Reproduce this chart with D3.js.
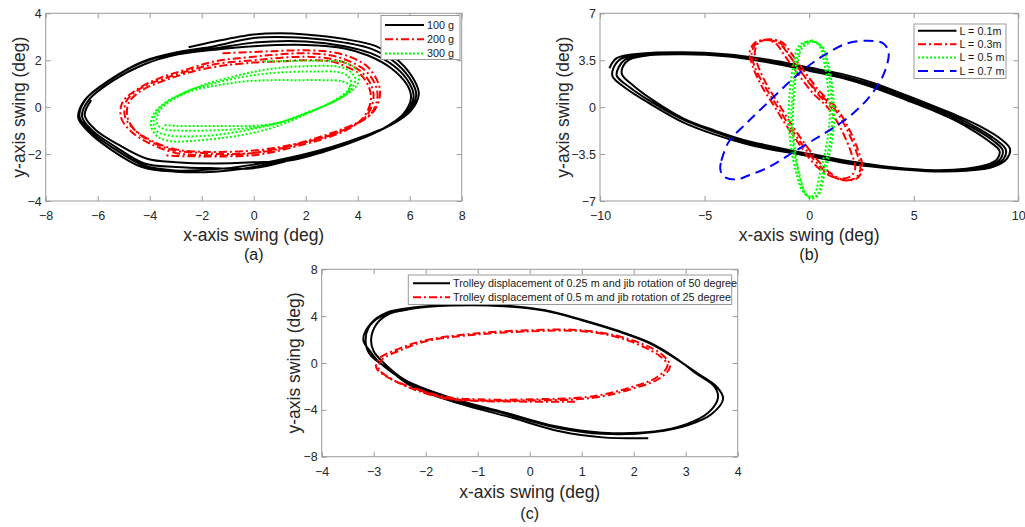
<!DOCTYPE html>
<html>
<head>
<meta charset="utf-8">
<script src="https://cdn.jsdelivr.net/npm/d3@7"></script>
<style>
  html, body { margin: 0; padding: 0; background: #fff; }
  svg { display: block; }
  text { font-family: "Liberation Sans", Arial, sans-serif; }
</style>
</head>
<body>
<svg id="fig" width="1025" height="527"></svg>
<script>
// ---------- Panel (a): payload mass ----------
const aXTicks = [-8, -6, -4, -2, 0, 2, 4, 6, 8];
const aYTicks = [-4, -2, 0, 2, 4];
const aLegend = ["100 g", "200 g", "300 g"];

const swing100g = [
  [-2.5,2.55],[-1.5,2.8],[0,3.1],[1,3.15],[2,3.1],[3.5,2.9],[4.7,2.6],[5.6,1.95],[6.2,1.1],[6.35,0.55],
  [6.05,-0.15],[5.3,-0.75],[4.2,-1.25],[3,-1.7],[1.8,-2.05],[0,-2.45],[-1.5,-2.65],[-3,-2.7],[-4.2,-2.5],
  [-5.4,-1.75],[-6.3,-1.0],[-6.7,-0.4],[-6.45,0.35],[-5.55,1.15],[-4.25,1.95],[-2.9,2.35],[-1.5,2.6],
  [0,2.95],[2,2.95],[3.5,2.75],[4.6,2.45],[5.5,1.85],[6.1,1.05],[6.25,0.5],[5.95,-0.2],[5.2,-0.8],
  [4.1,-1.35],[2.9,-1.8],[1.7,-2.15],[0,-2.55],[-1.5,-2.75],[-3,-2.75],[-4.3,-2.55],[-5.5,-1.8],
  [-6.35,-1.05],[-6.75,-0.45],[-6.5,0.3],[-5.6,1.1],[-4.3,1.9],[-3,2.3],[-1.5,2.5],
  [0,2.75],[2,2.8],[3.5,2.6],[4.5,2.3],[5.4,1.75],[6.0,1.0],[6.15,0.45],[5.85,-0.25],[5.1,-0.85],
  [4.0,-1.4],[2.8,-1.85],[1.6,-2.2],[0,-2.6],[-1.5,-2.6],[-3,-2.55],[-4.2,-2.4],[-5.3,-1.7],
  [-6.2,-1.0],[-6.6,-0.4],[-6.35,0.3],[-5.45,1.1],[-4.15,1.85],[-2.9,2.25],[-1.5,2.45],
  [0,2.6],[2,2.65],[3.5,2.5],[4.4,2.2],[5.3,1.65],[5.9,0.95],[6.05,0.4],[5.75,-0.3],[5.0,-0.9],
  [3.9,-1.45],[2.7,-1.9],[1.5,-2.25],[0,-2.35],[-1.5,-2.4],[-3,-2.35],[-4.1,-2.2],[-5.2,-1.6],
  [-6.1,-0.95],[-6.5,-0.35],[-6.25,0.3]
];
const swing200g = [
  [-1.2,2.3],[0,2.35],[1,2.4],[2,2.42],[3,2.35],[3.8,2.1],[4.4,1.7],[4.8,1.0],[4.85,0.45],[4.6,-0.2],
  [4.0,-0.65],[3.0,-1.1],[2.0,-1.45],[1.0,-1.75],[0,-1.95],[-1,-2.05],[-2,-2.05],[-3,-1.95],[-4,-1.55],
  [-4.7,-1.05],[-5.1,-0.45],[-5.05,0.2],[-4.5,0.75],[-3.6,1.25],[-2.6,1.6],[-1.5,1.95],
  [0,2.15],[1,2.25],[2,2.3],[3,2.2],[3.7,1.95],[4.3,1.55],[4.7,0.9],[4.75,0.35],[4.5,-0.3],[3.9,-0.75],
  [2.9,-1.2],[1.9,-1.5],[1,-1.7],[0,-1.85],[-1,-1.9],[-2,-1.9],[-3,-1.8],[-3.9,-1.45],[-4.6,-0.95],
  [-4.95,-0.4],[-4.9,0.25],[-4.35,0.8],[-3.5,1.2],[-2.5,1.55],[-1.4,1.85],
  [0,2.0],[1,2.1],[2,2.15],[3,2.05],[3.6,1.85],[4.2,1.45],[4.55,0.85],[4.6,0.3],[4.35,-0.35],[3.8,-0.8],
  [2.8,-1.25],[1.8,-1.55],[0.9,-1.8],[0,-1.95],[-1,-2.0],[-2,-1.95],[-3,-1.85],[-3.8,-1.55],[-4.5,-1.05],
  [-4.85,-0.45],[-4.8,0.2],[-4.25,0.75],[-3.4,1.15],[-2.4,1.5],[-1.3,1.75],
  [0,1.9],[1,1.95],[2,2.0],[3,1.95],[3.5,1.75],[4.1,1.4],[4.45,0.8],[4.5,0.25],[4.25,-0.4],[3.7,-0.9],
  [2.7,-1.35],[1.7,-1.65],[0.8,-1.9],[0,-2.05],[-1,-2.1],[-2,-2.1],[-3,-2.08],[-3.47,-2.05]
];
const swing300g = [
  [0.4,1.95],[1.5,1.97],[2.5,1.98],[3.3,1.95],[3.8,1.75],[4.05,1.35],[3.95,0.9],[3.6,0.55],[3.0,0.2],
  [2.2,-0.2],[1.4,-0.6],[0.5,-0.95],[-0.5,-1.2],[-1.5,-1.35],[-2.5,-1.45],[-3.2,-1.45],[-3.7,-1.25],
  [-3.95,-0.8],[-3.85,-0.3],[-3.4,0.2],[-2.7,0.6],[-1.8,1.0],[-0.8,1.3],[0.2,1.55],[1.2,1.7],[2.2,1.75],
  [3.1,1.75],[3.6,1.6],[3.9,1.25],[3.8,0.85],[3.4,0.45],[2.8,0.1],[2.0,-0.25],[1.2,-0.6],[0.3,-0.85],
  [-0.6,-1.05],[-1.6,-1.2],[-2.6,-1.25],[-3.3,-1.2],[-3.75,-1.0],[-3.85,-0.6],[-3.7,-0.15],[-3.2,0.3],
  [-2.5,0.7],[-1.6,1.0],[-0.6,1.25],[0.4,1.42],[1.4,1.5],[2.4,1.52],[3.2,1.5],[3.6,1.35],
  [3.75,1.05],[3.6,0.7],[3.2,0.35],[2.6,0.0],[1.8,-0.35],[1.0,-0.65],[0.1,-0.85],[-0.8,-0.95],
  [-1.8,-1.0],[-2.8,-1.0],[-3.4,-0.95],[-3.7,-0.75],[-3.7,-0.35],[-3.45,0.05],[-2.9,0.45],[-2.2,0.75],
  [-1.3,0.95],[-0.3,1.1],[0.7,1.15],[1.7,1.15],[2.7,1.15],[3.4,1.1],[3.7,0.9],[3.6,0.6],[3.2,0.3],
  [2.5,-0.05],[1.7,-0.4],[0.8,-0.7],[-0.1,-0.8],[-1.0,-0.8],[-2.0,-0.8],[-3.0,-0.8],[-3.5,-0.75]
];

// ---------- Panel (b): cable length ----------
const bXTicks = [-10, -5, 0, 5, 10];
const bYTicks = [-7, -3.5, 0, 3.5, 7];
const bLegend = ["L = 0.1m", "L = 0.3m", "L = 0.5 m", "L = 0.7 m"];

const swingL01 = [
  [-9.55,2.9],[-9.2,3.65],[-8.0,4.0],[-6.0,4.1],[-4.0,3.95],[-2.0,3.55],[0,2.95],[1.5,2.5],[3.0,1.85],
  [4.7,0.85],[6.0,0.05],[7.1,-0.65],[8.2,-1.45],[9.1,-2.3],[9.6,-3.1],[9.45,-3.85],[8.8,-4.45],[7.5,-4.75],
  [6.0,-4.8],[4.0,-4.6],[2.0,-4.25],[0,-3.65],[-2.0,-3.1],[-3.0,-2.75],[-4.5,-2.05],[-6.0,-1.15],
  [-7.6,0.25],[-8.8,1.45],[-9.4,2.3],
  [-9.35,2.95],[-9.0,3.6],[-7.9,3.95],[-6.0,4.0],[-4.0,3.85],[-2.0,3.45],[0,2.85],[1.5,2.35],[3.0,1.7],
  [4.7,0.7],[6.0,-0.1],[7.1,-0.8],[8.1,-1.6],[8.9,-2.4],[9.4,-3.15],[9.3,-3.85],[8.7,-4.4],[7.5,-4.7],
  [6.0,-4.75],[4.0,-4.55],[2.0,-4.15],[0,-3.55],[-2.0,-2.95],[-3.0,-2.6],[-4.5,-1.85],[-6.0,-0.95],
  [-7.5,0.35],[-8.6,1.5],[-9.2,2.35],
  [-9.1,3.0],[-8.8,3.55],[-7.8,3.9],[-6.0,3.98],[-4.0,3.82],[-2.0,3.4],[0,2.78],[1.5,2.28],[3.0,1.6],
  [4.7,0.6],[6.0,-0.2],[7.0,-0.9],[8.0,-1.7],[8.8,-2.5],[9.25,-3.2],[9.15,-3.85],[8.6,-4.35],[7.5,-4.65],
  [6.0,-4.72],[4.0,-4.5],[2.0,-4.1],[0,-3.5],[-2.0,-2.85],[-3.0,-2.5],[-4.5,-1.75],[-6.0,-0.85],
  [-7.4,0.45],[-8.4,1.6],[-8.95,2.45],
  [-8.9,3.05],[-8.6,3.55],[-7.6,3.88],[-6.0,3.95],[-4.0,3.8],[-2.0,3.35],[0,2.72],[1.5,2.2],[3.0,1.5],
  [4.7,0.5],[6.0,-0.3],[7.0,-1.0],[7.9,-1.8],[8.65,-2.6],[9.1,-3.25],[9.0,-3.85],[8.5,-4.3],[7.5,-4.6],
  [6.0,-4.7],[4.0,-4.48],[2.0,-4.05],[0,-3.45]
];
const swingL03 = [
  [-2.0,5.0],[-1.45,4.8],[-0.95,3.85],[-0.35,2.55],[0.45,1.05],[1.15,0.0],[1.75,-1.5],[2.25,-3.3],
  [2.45,-4.6],[2.2,-5.3],[1.6,-5.45],[0.9,-4.95],[0.3,-4.05],[-0.3,-2.85],[-0.9,-1.5],[-1.5,0.0],
  [-2.1,1.5],[-2.6,3.0],[-2.75,4.0],[-2.55,4.7],
  [-2.05,5.05],[-1.3,4.85],[-0.8,3.9],[-0.2,2.6],[0.55,1.1],[1.25,0.05],[1.85,-1.45],[2.35,-3.25],
  [2.55,-4.55],[2.3,-5.3],[1.7,-5.45],[1.0,-4.9],[0.4,-3.95],[-0.2,-2.75],[-0.8,-1.4],[-1.4,0.1],
  [-2.0,1.6],[-2.45,3.1],[-2.6,4.05],[-2.45,4.75],
  [-2.1,5.0],[-1.6,4.75],[-1.15,3.8],[-0.55,2.5],[0.2,1.0],[0.9,-0.05],[1.5,-1.55],[2.0,-3.35],
  [2.2,-4.6],[1.95,-5.2],[1.35,-5.3],[0.65,-4.8],[0.05,-3.9],[-0.5,-2.7],[-1.1,-1.35],[-1.7,0.15],
  [-2.3,1.65],[-2.7,3.05],[-2.85,4.05],[-2.6,4.8],
  [-1.95,5.05],[-1.4,4.8],[-0.9,3.75],[-0.3,2.45],[0.4,1.0],[1.1,-0.1]
];
const swingL05 = [
  [0.1,5.0],[0.55,4.6],[0.85,3.2],[1.05,1.0],[1.1,-1.0],[0.95,-3.0],[0.65,-5.0],[0.4,-6.5],[0.1,-6.85],
  [-0.2,-6.4],[-0.5,-5.0],[-0.75,-3.0],[-0.85,-1.0],[-0.8,1.0],[-0.65,3.0],[-0.4,4.5],
  [0.05,4.95],[0.45,4.65],[0.72,3.3],[0.92,1.1],[0.98,-0.9],[0.82,-2.9],[0.52,-4.9],[0.28,-6.4],[0.05,-6.7],
  [-0.3,-6.3],[-0.62,-4.9],[-0.88,-2.9],[-0.98,-0.9],[-0.93,1.1],[-0.76,3.1],[-0.5,4.55],
  [0.0,4.9],[0.6,4.55],[0.93,3.1],[1.15,0.9],[1.2,-1.1],[1.03,-3.1],[0.72,-5.1],[0.45,-6.55],[0.15,-6.75],
  [-0.15,-6.45],[-0.45,-5.1],[-0.68,-3.1],[-0.78,-1.1],[-0.72,0.9],[-0.58,2.9],[-0.32,4.45],[0.1,4.85]
];
const swingL07 = [
  [-4.2,-4.0],[-3.85,-2.6],[-3.0,-1.2],[-2.0,0.3],[-1.0,1.8],[-0.1,3.0],[0.8,3.95],[1.8,4.75],[2.8,4.95],
  [3.55,4.75],[3.8,4.05],[3.55,2.4],[2.9,0.8],[2.0,-0.6],[1.0,-1.7],[0.2,-2.45],[-0.8,-3.4],[-1.9,-4.45],
  [-2.9,-5.1],[-3.5,-5.4],[-4.1,-5.15],[-4.25,-4.6],[-4.2,-4.0]
];

// ---------- Panel (c): trolley / jib motion ----------
const cXTicks = [-4, -3, -2, -1, 0, 1, 2, 3, 4];
const cYTicks = [-8, -4, 0, 4, 8];
const cLegend = [
  "Trolley displacement of 0.25 m and jib rotation of 50 degree",
  "Trolley displacement of 0.5 m and jib rotation of 25 degree"
];

const swingTrolley025 = [
  [2.28,-6.43],[1.4,-6.35],[0.6,-5.85],[-0.4,-4.6],[-1.4,-3.4],[-2.3,-1.9],[-2.75,-0.4],[-3.05,0.6],
  [-3.15,1.6],[-3.1,3.0],[-2.85,4.0],[-2.3,4.6],[-1.5,4.9],[-0.5,4.85],[0.3,4.45],[1.0,3.65],[1.7,2.7],
  [2.3,1.7],[2.8,0.4],[3.25,-0.95],[3.6,-2.05],[3.72,-3.05],[3.5,-4.35],[3.05,-5.3],[2.4,-5.9],
  [1.4,-6.05],[0.5,-5.5],[-0.5,-4.3],[-1.5,-3.1],[-2.4,-1.5],[-2.9,0.1],[-3.05,0.9],[-3.2,2.0],
  [-3.05,3.4],[-2.75,4.3],[-2.2,4.75],[-1.5,4.98],[-0.5,4.92],[0.3,4.5],[1.0,3.7],[1.7,2.75],[2.3,1.75],
  [2.8,0.45],[3.2,-0.9],[3.55,-2.0],[3.62,-3.0],[3.42,-4.3],[3.0,-5.25],[2.4,-5.85],[1.4,-5.95],
  [0.5,-5.4],[-0.5,-4.2],[-1.5,-3.0],[-2.4,-1.45],[-2.85,0.2],[-3.0,1.0],[-3.05,2.0],[-2.95,3.3],
  [-2.7,4.2],[-2.2,4.7]
];
const swingTrolley05 = [
  [0.87,-3.3],[0,-3.3],[-1,-3.25],[-1.6,-3.05],[-2.2,-2.3],[-2.6,-1.5],[-2.9,-0.5],[-2.85,0.25],
  [-2.45,1.15],[-2.0,1.85],[-1.1,2.4],[0,2.7],[1.0,2.72],[1.6,2.3],[2.1,1.55],[2.5,0.6],[2.65,-0.2],
  [2.45,-1.2],[2.0,-2.0],[1.2,-2.85],[0,-3.1],[-1,-3.1],[-1.6,-2.9],[-2.25,-2.1],[-2.7,-1.3],
  [-2.95,-0.4],[-2.9,0.35],[-2.5,1.25],[-2.0,1.95],[-1.1,2.5],[0,2.8],[1.0,2.8],[1.65,2.35],[2.15,1.65],
  [2.55,0.7],[2.7,-0.3],[2.5,-1.3],[2.05,-2.1],[1.25,-2.95],[0,-3.2],[-1,-3.2],[-1.6,-3.0],[-2.2,-2.2]
];

// ---------- line styles ----------
const styles = {
  solidBlack: { color: "#000000", dash: null },
  dashDotRed: { color: "#ff0000", dash: "8,3,2,3" },
  dotGreen:   { color: "#00ff00", dash: "2,2" },
  dashBlue:   { color: "#0000ff", dash: "10,6" }
};

const svg = d3.select("#fig");
const FONT = '"Liberation Sans", Arial, sans-serif';

function drawPanel(p) {
  const x = d3.scaleLinear().domain(p.xDomain).range([p.left, p.right]);
  const y = d3.scaleLinear().domain(p.yDomain).range([p.bottom, p.top]);
  const g = svg.append("g");
  const clipId = "clip-" + p.id;

  g.append("clipPath").attr("id", clipId)
    .append("rect")
    .attr("x", p.left).attr("y", p.top)
    .attr("width", p.right - p.left).attr("height", p.bottom - p.top);

  // axes: ticks pointing inwards on all four sides
  const tickLen = 5;
  const styleAxis = sel => {
    sel.select(".domain").remove();
    sel.selectAll(".tick line").attr("stroke", "#9a9a9a");
    sel.selectAll(".tick text").attr("fill", "#262626")
      .style("font-family", FONT).style("font-size", "12.5px");
  };
  g.append("g").attr("transform", `translate(0,${p.bottom})`)
    .call(d3.axisBottom(x).tickValues(p.xTicks).tickSize(-tickLen).tickPadding(10).tickFormat(d3.format("")))
    .call(styleAxis);
  g.append("g").attr("transform", `translate(0,${p.top})`)
    .call(d3.axisTop(x).tickValues(p.xTicks).tickSize(-tickLen).tickFormat(""))
    .call(styleAxis);
  g.append("g").attr("transform", `translate(${p.left},0)`)
    .call(d3.axisLeft(y).tickValues(p.yTicks).tickSize(-tickLen).tickPadding(4).tickFormat(d3.format("")))
    .call(styleAxis);
  g.append("g").attr("transform", `translate(${p.right},0)`)
    .call(d3.axisRight(y).tickValues(p.yTicks).tickSize(-tickLen).tickFormat(""))
    .call(styleAxis);

  // trajectories
  const line = d3.line()
    .x(d => x(d[0])).y(d => y(d[1]))
    .curve(d3.curveCatmullRom.alpha(0.5));
  const plot = g.append("g").attr("clip-path", `url(#${clipId})`);
  p.series.forEach(s => {
    const st = styles[s.style];
    plot.append("path")
      .datum(s.data)
      .attr("d", line)
      .attr("fill", "none")
      .attr("stroke", st.color)
      .attr("stroke-width", 2)
      .attr("stroke-linejoin", "round")
      .attr("stroke-dasharray", st.dash);
  });

  // axes box
  g.append("rect")
    .attr("x", p.left).attr("y", p.top)
    .attr("width", p.right - p.left).attr("height", p.bottom - p.top)
    .attr("fill", "none").attr("stroke", "#9a9a9a").attr("stroke-width", 1);

  // legend
  const L = p.legend;
  const lg = g.append("g");
  lg.append("rect")
    .attr("x", L.x0).attr("y", L.y0)
    .attr("width", L.x1 - L.x0).attr("height", L.y1 - L.y0)
    .attr("fill", "#fff").attr("stroke", "#9a9a9a").attr("stroke-width", 1);
  p.series.forEach((s, i) => {
    const st = styles[s.style];
    const ry = L.y0 + L.firstRow + i * L.rowStep;
    lg.append("line")
      .attr("x1", L.lineX0).attr("x2", L.lineX1).attr("y1", ry).attr("y2", ry)
      .attr("stroke", st.color).attr("stroke-width", 2)
      .attr("stroke-dasharray", st.dash);
    lg.append("text")
      .attr("x", L.textX).attr("y", ry).attr("dy", "0.35em")
      .style("font-size", L.fontSize + "px").attr("fill", "#1a1a1a")
      .text(s.name);
  });

  // axis titles and panel caption
  const cx = (p.left + p.right) / 2;
  g.append("text")
    .attr("x", cx).attr("y", p.xLabelY).attr("text-anchor", "middle")
    .style("font-size", "17.5px").attr("fill", "#262626")
    .text("x-axis swing (deg)");
  g.append("text")
    .attr("transform", `translate(${p.yLabelX},${(p.top + p.bottom) / 2}) rotate(-90)`)
    .attr("text-anchor", "middle")
    .style("font-size", "17.5px").attr("fill", "#262626")
    .text("y-axis swing (deg)");
  g.append("text")
    .attr("x", cx).attr("y", p.captionY).attr("text-anchor", "middle")
    .style("font-size", "16px").attr("fill", "#1a1a1a")
    .text(p.caption);
}

drawPanel({
  id: "a", caption: "(a)",
  left: 45.7, right: 461.7, top: 13.3, bottom: 201,
  xDomain: [-8, 8], yDomain: [-4, 4], xTicks: aXTicks, yTicks: aYTicks,
  xLabelY: 241, yLabelX: 25, captionY: 260,
  series: [
    { name: aLegend[0], data: swing100g, style: "solidBlack" },
    { name: aLegend[1], data: swing200g, style: "dashDotRed" },
    { name: aLegend[2], data: swing300g, style: "dotGreen" }
  ],
  legend: { x0: 381, x1: 460, y0: 15.5, y1: 59.5, firstRow: 9.5, rowStep: 14.2,
            lineX0: 385, lineX1: 424, textX: 427, fontSize: 10.8 }
});

drawPanel({
  id: "b", caption: "(b)",
  left: 600, right: 1018.3, top: 13.3, bottom: 201,
  xDomain: [-10, 10], yDomain: [-7, 7], xTicks: bXTicks, yTicks: bYTicks,
  xLabelY: 241, yLabelX: 569, captionY: 260,
  series: [
    { name: bLegend[0], data: swingL01, style: "solidBlack" },
    { name: bLegend[1], data: swingL03, style: "dashDotRed" },
    { name: bLegend[2], data: swingL05, style: "dotGreen" },
    { name: bLegend[3], data: swingL07, style: "dashBlue" }
  ],
  legend: { x0: 914, x1: 1006, y0: 24, y1: 78.5, firstRow: 6.8, rowStep: 13.4,
            lineX0: 918, lineX1: 956.5, textX: 959.5, fontSize: 10.8 }
});

drawPanel({
  id: "c", caption: "(c)",
  left: 321.7, right: 737.7, top: 269.3, bottom: 456.7,
  xDomain: [-4, 4], yDomain: [-8, 8], xTicks: cXTicks, yTicks: cYTicks,
  xLabelY: 498, yLabelX: 300, captionY: 519,
  series: [
    { name: cLegend[0], data: swingTrolley025, style: "solidBlack" },
    { name: cLegend[1], data: swingTrolley05, style: "dashDotRed" }
  ],
  legend: { x0: 408.3, x1: 731.7, y0: 275, y1: 304.5, firstRow: 8.3, rowStep: 14,
            lineX0: 413, lineX1: 450, textX: 453, fontSize: 10.8 }
});
</script>
</body>
</html>
